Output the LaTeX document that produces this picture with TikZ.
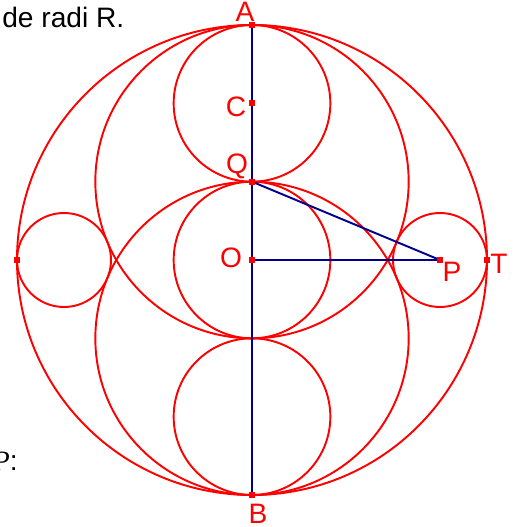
\documentclass[tikz,border=0pt]{standalone}
\usepackage{fontspec}
\setmainfont{Liberation Sans}
\newfontfamily\serifit{Liberation Serif}
\usetikzlibrary{positioning, calc}
\definecolor{circred}{HTML}{FF0000}
\definecolor{axisblue}{HTML}{00008F}

\begin{document}
\begin{tikzpicture}[
    every node/.style={font=\fontsize{16}{18}\selectfont},
    circ/.style={draw=circred, line width=1.1pt},
    seg/.style={draw=axisblue, line width=1.1pt},
    pt/.style={fill=circred, inner sep=0pt, minimum size=0.12cm},
    lbl/.style={text=circred, inner sep=0pt},
]

% Frame
\useasboundingbox (-5.04,-5.34) rectangle (5.34,5.2);

% Points (R = 4.7)
\coordinate (O) at (0,0);
\coordinate (A) at (0,4.7);
\coordinate (B) at (0,-4.7);
\coordinate (C) at (0,3.1333);
\coordinate (Q) at (0,1.5667);
\coordinate (P) at (3.76,0);
\coordinate (T) at (4.7,0);
\coordinate (L) at (-4.7,0);

% Circles
\draw[circ] (O) circle (4.7);
\draw[circ] (Q) circle (3.1333);
\draw[circ] (0,-1.5667) circle (3.1333);
\draw[circ] (C) circle (1.5667);
\draw[circ] (O) circle (1.5667);
\draw[circ] (0,-3.1333) circle (1.5667);
\draw[circ] (P) circle (0.94);
\draw[circ] (-3.76,0) circle (0.94);

% Segments
\draw[seg] (A) -- (B);
\draw[seg] (O) -- (P);
\draw[seg] (Q) -- (P);

% Markers
\foreach \p in {A,B,C,Q,O,P,T,L}
  \node[pt] (m\p) at (\p) {};

% Labels
\node[lbl] (lA) at (-0.14,4.96) {A};
\node[lbl] (lC) at (-0.32,3.06) {C};
\node[lbl] (lQ) at (-0.30,1.88) {Q};
\node[lbl] (lO) at (-0.42,0.04) {O};
\node[lbl] (lP) at (4.0,-0.24) {P};
\node[lbl] (lT) at (4.94,-0.08) {T};
\node[lbl] (lB) at (0.12,-5.08) {B};

% Cut-off text
\node[anchor=base west, inner sep=0pt] (txt) at (-5.0,4.64) {de radi R.};
\node[anchor=base east, inner sep=0pt] (txtP) at (-4.68,-4.2) {{\serifit\itshape P}:};

\end{tikzpicture}
\end{document}
